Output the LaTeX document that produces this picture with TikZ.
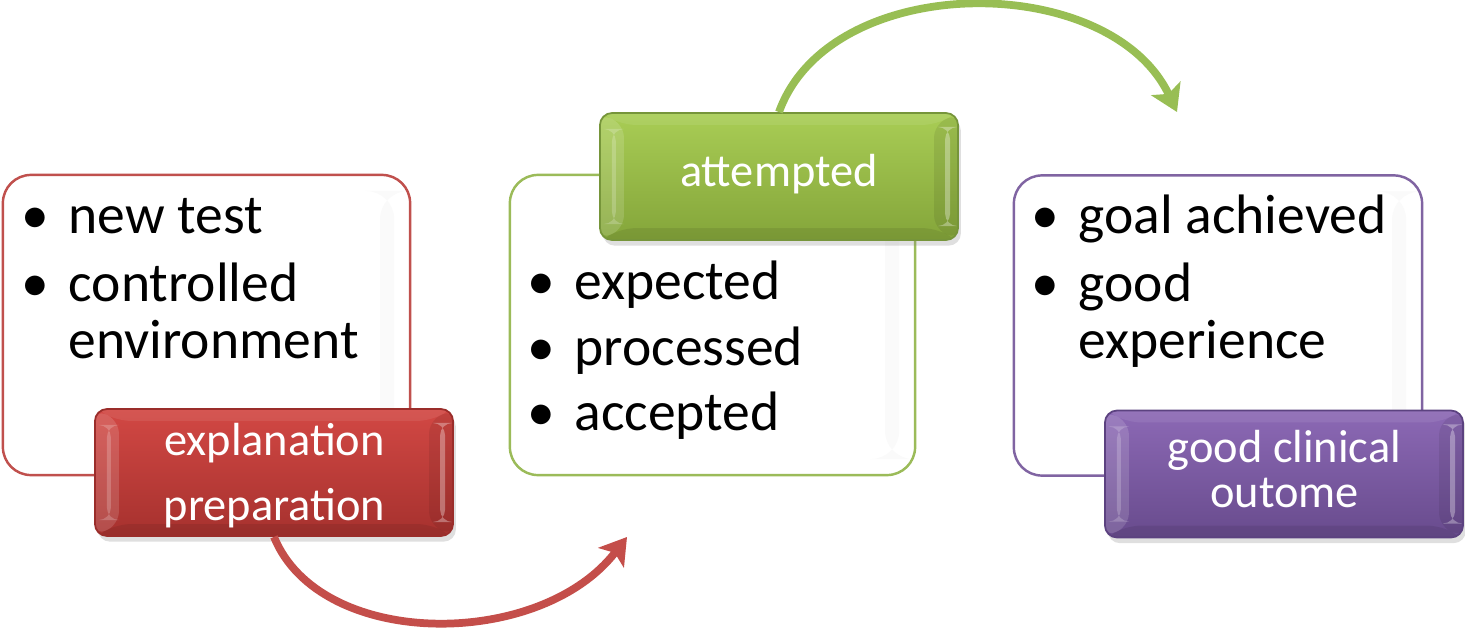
\documentclass[tikz,border=0pt]{standalone}
\usepackage{fontspec}
\setmainfont{Carlito}
\usetikzlibrary{arrows.meta,shadows,calc}

\definecolor{redline}{HTML}{C0504D}
\definecolor{redtop}{HTML}{D24844}
\definecolor{redbot}{HTML}{A6312E}
\definecolor{reddark}{HTML}{9A2D2A}
\definecolor{grnline}{HTML}{9BBB59}
\definecolor{grntop}{HTML}{A9CD55}
\definecolor{grnbot}{HTML}{84A53A}
\definecolor{grndark}{HTML}{76953A}
\definecolor{purline}{HTML}{8064A2}
\definecolor{purtop}{HTML}{8C69B5}
\definecolor{purbot}{HTML}{684B8D}
\definecolor{purdark}{HTML}{5C4280}
\definecolor{redarrow}{HTML}{C44E4A}
\definecolor{grnarrow}{HTML}{98BE54}

% bullet set 0.33cm left of the line's first letter
\newcommand\bul{\hspace*{-0.33cm}\makebox[0pt][c]{\textbullet}\hspace*{0.33cm}}

\tikzset{
  outbox/.style={draw=#1, line width=0.7pt, rounded corners=8pt,
    minimum height=3cm, inner sep=0pt, fill=white,
    path picture={
      \fill[black!2] ([shift={(-30,16)}]path picture bounding box.north east)
        rectangle ([shift={(-16,-16)}]path picture bounding box.south east);
    }},
  itemtxt/.style={anchor=base west, inner sep=0pt, text=black,
    font=\fontsize{15.8}{18}\selectfont},
  colbox/.style n args={3}{draw=#3, line width=0.5pt, rounded corners=3.5pt,
    top color=#1, bottom color=#2, minimum width=3.58cm, minimum height=1.27cm,
    inner sep=0pt,
    drop shadow={opacity=0.25, shadow xshift=0.8pt, shadow yshift=-1.6pt},
    path picture={
      % left bevel
      \fill[white, opacity=0.14] (path picture bounding box.north west)
        -- ([shift={(24,12)}]path picture bounding box.north west)
        -- ([shift={(24,-12)}]path picture bounding box.south west)
        -- (path picture bounding box.south west) -- cycle;
      \fill[white, opacity=0.20] ([shift={(12,16)}]path picture bounding box.north west)
        rectangle ([shift={(16,-16)}]path picture bounding box.south west);
      % right bevel
      \fill[black, opacity=0.08] (path picture bounding box.north east)
        -- ([shift={(-24,12)}]path picture bounding box.north east)
        -- ([shift={(-24,-12)}]path picture bounding box.south east)
        -- (path picture bounding box.south east) -- cycle;
      \fill[white, opacity=0.32] ([shift={(-13,14)}]path picture bounding box.north east)
        rectangle ([shift={(-8,-14)}]path picture bounding box.south east);
      % top and bottom bevels
      \fill[white, opacity=0.08] (path picture bounding box.north west)
        -- ([shift={(24,12)}]path picture bounding box.north west)
        -- ([shift={(-24,12)}]path picture bounding box.north east)
        -- (path picture bounding box.north east) -- cycle;
      \fill[black, opacity=0.08] (path picture bounding box.south west)
        -- ([shift={(24,-12)}]path picture bounding box.south west)
        -- ([shift={(-24,-12)}]path picture bounding box.south east)
        -- (path picture bounding box.south east) -- cycle;
    }},
  coltxt/.style={anchor=base, inner sep=0pt, text=white,
    font=\fontsize{13.2}{15}\selectfont},
  flow/.style={draw=#1, line width=2.2pt,
    -{Stealth[length=0.26cm, width=0.32cm, inset=0.06cm]}},
}

\begin{document}
\begin{tikzpicture}[x=0.01cm, y=-0.01cm]
\useasboundingbox (0,0) rectangle (1465,636);

% outline boxes with the bullet lists
\node[outbox=redline, minimum width=4.07cm] (box1) at (206.5,325) {};
\node[outbox=grnline, minimum width=4.05cm] (box2) at (712.5,325) {};
\node[outbox=purline, minimum width=4.08cm] (box3) at (1218,325.5) {};

\node[itemtxt] (t1a) at (68,233) {\bul new test};
\node[itemtxt] (t1b) at (68,301) {\bul controlled};
\node[itemtxt] (t1c) at (68,358) {environment};

\node[itemtxt] (t2a) at (574,299) {\bul expected};
\node[itemtxt] (t2b) at (574,365) {\bul processed};
\node[itemtxt] (t2c) at (574,430) {\bul accepted};

\node[itemtxt] (t3a) at (1078,233) {\bul goal achieved};
\node[itemtxt] (t3b) at (1078,301) {\bul good};
\node[itemtxt] (t3c) at (1078,358) {experience};

% connecting arcs
\coordinate (redend) at (627,537);
\coordinate (grnend) at (1177,112);

% coloured stage boxes
\node[colbox={redtop}{redbot}{reddark}] (stage1) at (274,472.5) {};
\node[colbox={grntop}{grnbot}{grndark}] (stage2) at (779,176.5) {};
\node[colbox={purtop}{purbot}{purdark}] (stage3) at (1284,474) {};

\draw[flow=redarrow] (stage1.south) .. controls (320,650) and (540,650) .. (redend);
\draw[flow=grnarrow] (stage2.north) .. controls (830,-30) and (1110,-30) .. (grnend);

\node[coltxt] (s1a) at (274.5,455) {explanation};
\node[coltxt] (s1b) at (274.5,520) {preparation};
\node[coltxt] (s2a) at (779,186) {attempted};
\node[coltxt] (s3a) at (1284.5,462) {good clinical};
\node[coltxt] (s3b) at (1284.5,507) {outome};
\end{tikzpicture}
\end{document}
